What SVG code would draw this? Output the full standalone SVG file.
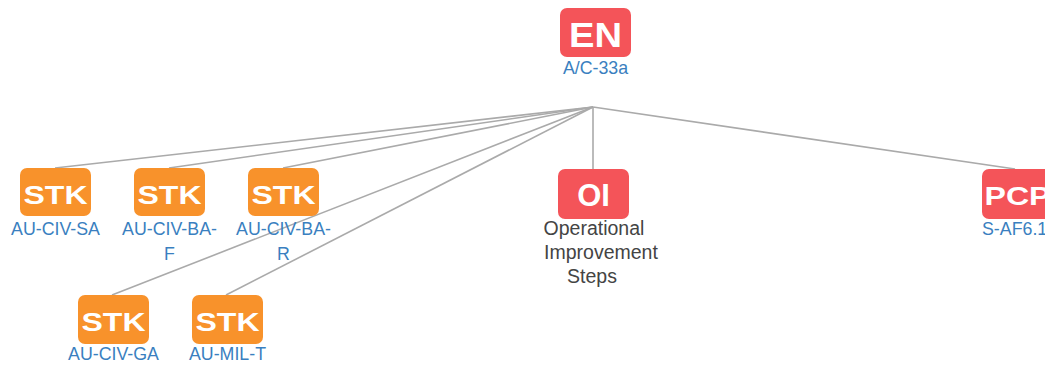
<svg xmlns="http://www.w3.org/2000/svg" width="1045" height="365" viewBox="0 0 1045 365">
<style>
.red{fill:#f45459}
.org{fill:#f8922b}
.bt{font-family:"Liberation Sans",Arial,sans-serif;font-weight:bold;fill:#fff;text-anchor:middle}
.lb{font-family:"Liberation Sans",Arial,sans-serif;font-size:17.8px;fill:#3a7fc0;text-anchor:middle}
.gl{font-family:"Liberation Sans",Arial,sans-serif;font-size:19.5px;fill:#444;text-anchor:middle}
.e{stroke:#aaa;stroke-width:1.6;fill:none}
</style>
<rect width="1045" height="365" fill="#fff"/>
<g id="connectors">
<line class="e" x1="593" y1="107" x2="55" y2="168"/>
<line class="e" x1="593" y1="107" x2="169" y2="168"/>
<line class="e" x1="593" y1="107" x2="283" y2="168"/>
<line class="e" x1="593" y1="107" x2="112" y2="295"/>
<line class="e" x1="593" y1="107" x2="226" y2="295"/>
<line class="e" x1="593" y1="107" x2="593" y2="169"/>
<line class="e" x1="593" y1="107" x2="1015" y2="169"/>
</g>
<g id="n-en">
<rect class="red" x="560" y="8" width="71" height="49" rx="7"/>
<text class="bt" x="595.5" y="47" font-size="35" textLength="53" lengthAdjust="spacingAndGlyphs">EN</text>
<text class="lb" x="595.5" y="74">A/C-33a</text>
</g>
<g id="n-stk1">
<rect class="org" x="20" y="168" width="71" height="48" rx="7"/>
<text class="bt" x="55.5" y="203.5" font-size="26.5" textLength="64" lengthAdjust="spacingAndGlyphs">STK</text>
<text class="lb" x="55.5" y="235">AU-CIV-SA</text>
</g>
<g id="n-stk2">
<rect class="org" x="134" y="168" width="71" height="48" rx="7"/>
<text class="bt" x="169.5" y="203.5" font-size="26.5" textLength="64" lengthAdjust="spacingAndGlyphs">STK</text>
<text class="lb" x="169.5" y="235">AU-CIV-BA-</text>
<text class="lb" x="169.5" y="260">F</text>
</g>
<g id="n-stk3">
<rect class="org" x="248" y="168" width="71" height="48" rx="7"/>
<text class="bt" x="283.5" y="203.5" font-size="26.5" textLength="64" lengthAdjust="spacingAndGlyphs">STK</text>
<text class="lb" x="283.5" y="235">AU-CIV-BA-</text>
<text class="lb" x="283.5" y="260">R</text>
</g>
<g id="n-oi">
<rect class="red" x="558" y="169" width="71" height="50" rx="7"/>
<text class="bt" x="593.5" y="206" font-size="31">OI</text>
<text class="gl" x="594" y="235">Operational</text>
<text class="gl" x="601" y="259">Improvement</text>
<text class="gl" x="592" y="283">Steps</text>
</g>
<g id="n-pcp">
<rect class="red" x="982" y="169" width="71" height="50" rx="7"/>
<text class="bt" x="1017.5" y="205" font-size="26.5" textLength="66" lengthAdjust="spacingAndGlyphs">PCP</text>
<text class="lb" x="982" y="235" style="text-anchor:start">S-AF6.1</text>
</g>
<g id="n-stk4">
<rect class="org" x="78" y="295" width="71" height="49" rx="7"/>
<text class="bt" x="113.5" y="331" font-size="26.5" textLength="64" lengthAdjust="spacingAndGlyphs">STK</text>
<text class="lb" x="113.5" y="360">AU-CIV-GA</text>
</g>
<g id="n-stk5">
<rect class="org" x="192" y="295" width="71" height="49" rx="7"/>
<text class="bt" x="227.5" y="331" font-size="26.5" textLength="64" lengthAdjust="spacingAndGlyphs">STK</text>
<text class="lb" x="227.5" y="360">AU-MIL-T</text>
</g>
</svg>
